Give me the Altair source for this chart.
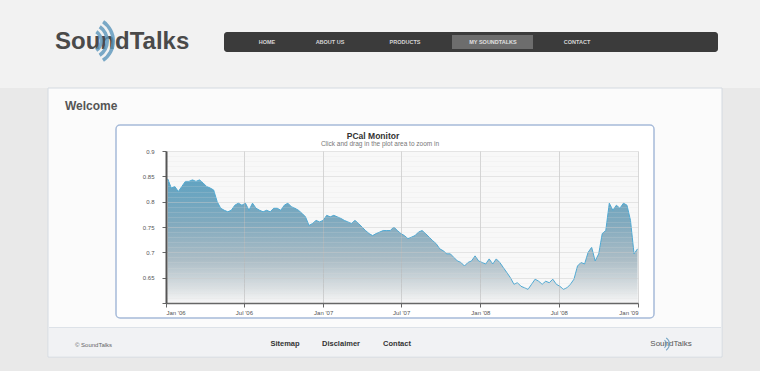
import altair as alt
import pandas as pd

# ---------------- data ----------------
VALUES = [
    0.845, 0.827, 0.830, 0.820, 0.830, 0.840, 0.840, 0.843, 0.840, 0.843,
    0.837, 0.830, 0.827, 0.823, 0.800, 0.787, 0.783, 0.780, 0.783, 0.793,
    0.797, 0.793, 0.797, 0.783, 0.797, 0.787, 0.783, 0.780, 0.783, 0.780,
    0.787, 0.787, 0.783, 0.793, 0.797, 0.790, 0.787, 0.783, 0.777, 0.770,
    0.753, 0.757, 0.763, 0.760, 0.763, 0.773, 0.770, 0.773, 0.770, 0.767,
    0.763, 0.760, 0.757, 0.763, 0.757, 0.750, 0.743, 0.737, 0.733, 0.737,
    0.740, 0.743, 0.743, 0.743, 0.750, 0.743, 0.737, 0.733, 0.727, 0.730,
    0.733, 0.740, 0.743, 0.737, 0.730, 0.723, 0.717, 0.707, 0.703, 0.697,
    0.697, 0.690, 0.683, 0.680, 0.673, 0.680, 0.683, 0.693, 0.683, 0.680,
    0.677, 0.687, 0.677, 0.687, 0.680, 0.670, 0.660, 0.650, 0.637, 0.640,
    0.633, 0.630, 0.627, 0.637, 0.647, 0.643, 0.637, 0.643, 0.640, 0.647,
    0.637, 0.633, 0.627, 0.630, 0.637, 0.647, 0.673, 0.680, 0.677, 0.700,
    0.710, 0.683, 0.697, 0.737, 0.743, 0.797, 0.783, 0.793, 0.787, 0.797,
    0.793, 0.763, 0.697, 0.707,
]
START_DATE = "2006-01-05"
END_DATE = "2008-12-31"

Y_TICKS = [0.60, 0.61, 0.62, 0.63, 0.64, 0.65, 0.66, 0.67, 0.68, 0.69,
           0.70, 0.71, 0.72, 0.73, 0.74, 0.75, 0.76, 0.77, 0.78, 0.79,
           0.80, 0.81, 0.82, 0.83, 0.84, 0.85, 0.86, 0.87, 0.88, 0.89, 0.90]
X_TICKS = [(2006, 1), (2006, 7), (2007, 1), (2007, 7), (2008, 1), (2008, 7), (2009, 1)]

TITLE = "PCal Monitor"
SUBTITLE = "Click and drag in the plot area to zoom in"
LOGO = "SoundTalks"
MENU = ["HOME", "ABOUT US", "PRODUCTS", "MY SOUNDTALKS", "CONTACT"]
WELCOME = "Welcome"
COPYRIGHT = "© SoundTalks"
FOOTER_LINKS = ["Sitemap", "Disclaimer", "Contact"]

# ---------------- chart ----------------
W, H = 472, 152
df = pd.DataFrame({
    "date": pd.date_range(START_DATE, END_DATE, periods=len(VALUES)),
    "value": VALUES,
})
ONE = pd.DataFrame({"k": [0]})
FONT = "Liberation Sans"


def box(x, x2, y, y2, **kw):
    return alt.Chart(ONE).mark_rect(**kw).encode(
        x=alt.value(x), x2=alt.value(x2), y=alt.value(y), y2=alt.value(y2))


def label(text, x, y, **kw):
    return alt.Chart(ONE).mark_text(text=text, font=FONT, **kw).encode(
        x=alt.value(x), y=alt.value(y))


def arc(x, y, r, w, **kw):
    return alt.Chart(ONE).mark_arc(radius=r, radius2=r - w, **kw).encode(
        x=alt.value(x), y=alt.value(y))


grad = alt.Gradient(
    gradient="linear",
    stops=[
        alt.GradientStop(color="#1f7eaa", offset=0),
        alt.GradientStop(color="#4d88a5", offset=0.35),
        alt.GradientStop(color="#8aa3b0", offset=0.65),
        alt.GradientStop(color="#cdd5d9", offset=0.88),
        alt.GradientStop(color="#f6f6f6", offset=1),
    ],
    x1=1, x2=1, y1=0, y2=1,
)

major_test = "round(datum.value*100) % 5 == 0"

area = alt.Chart(df).mark_area(
    color=grad, line={"color": "#4fa9d3", "strokeWidth": 1}, clip=True
).encode(
    x=alt.X(
        "date:T",
        scale=alt.Scale(domain=[alt.DateTime(year=2006, month=1, date=1),
                                alt.DateTime(year=2009, month=1, date=1)]),
        axis=alt.Axis(
            values=[alt.DateTime(year=y, month=m, date=1) for y, m in X_TICKS],
            format="%b '%y", title=None, grid=True, gridColor="#b8b8b8",
            gridOpacity=0.55,
            domainColor="#666666", domainWidth=1.5, tickColor="#666666",
            tickSize=4, labelFontSize=6, labelColor="#555555", labelPadding=2,
            labelFont=FONT, zindex=1,
        ),
    ),
    y=alt.Y(
        "value:Q",
        scale=alt.Scale(domain=[0.6, 0.9], zero=False, nice=False),
        axis=alt.Axis(
            values=Y_TICKS, title=None,
            labelExpr=f"({major_test} && datum.value > 0.605) ? '' + round(datum.value*100)/100 : ''",
            gridColor={"condition": {"test": major_test, "value": "#cccccc"}, "value": "#dddddd"},
            gridOpacity={"condition": {"test": major_test, "value": 0.45}, "value": 0.18},
            tickOpacity={"condition": {"test": major_test, "value": 1}, "value": 0},
            domainColor="#555555", domainWidth=2, tickColor="#666666", tickSize=4,
            labelFontSize=6, labelColor="#555555", labelPadding=8,
            labelFont=FONT, zindex=1,
        ),
    ),
    y2=alt.datum(0.6),
)

ARC_BLUE = "#5a95ba"

layers = [
    # page header band
    box(-166, 594, -151, -63, color="#f2f2f2"),
    # white content panel
    box(-118, 556, -63, 206, color="#fbfbfb", stroke="#d4dae1", strokeWidth=1),
    # footer band
    box(-117, 555, 176, 205, color="#f1f2f4"),
    box(-117, 555, 176, 177, color="#dde2e8"),
    # chart container
    box(-50, 488, -26, 167, color="#ffffff", stroke="#a7bbd9", strokeWidth=1.5, cornerRadius=4),
    # plot background
    box(0, W, 0, H, color="#f8f8f8"),
    area,
    # titles
    label(TITLE, 207, -15, fontSize=8.5, fontWeight="bold", color="#333333"),
    label(SUBTITLE, 214, -7, fontSize=6.5, color="#777777"),
    # header: logo + navigation
    label(LOGO, -111, -109, fontSize=24, fontWeight="bold", color="#4a4a4a", align="left", baseline="middle"),
    arc(-76, -110, 13, 3.5, theta=0.6, theta2=2.55, color=ARC_BLUE, opacity=0.8),
    arc(-76, -110, 19, 3.5, theta=0.6, theta2=2.55, color=ARC_BLUE, opacity=0.8),
    arc(-76, -110, 25, 3.5, theta=0.6, theta2=2.55, color=ARC_BLUE, opacity=0.8),
    box(58, 552, -119, -99, color="#3b3b3b", cornerRadius=3),
    box(286, 367, -116, -102, color="#6d6d6d"),
    label(MENU[0], 101, -109, fontSize=5.5, fontWeight="bold", color="#d5d5d5"),
    label(MENU[1], 164, -109, fontSize=5.5, fontWeight="bold", color="#d5d5d5"),
    label(MENU[2], 239, -109, fontSize=5.5, fontWeight="bold", color="#d5d5d5"),
    label(MENU[3], 327, -109, fontSize=5.5, fontWeight="bold", color="#e0e0e0"),
    label(MENU[4], 411, -109, fontSize=5.5, fontWeight="bold", color="#d5d5d5"),
    # panel heading
    label(WELCOME, -101, -45, fontSize=12, fontWeight="bold", color="#555555", align="left"),
    # footer
    label(COPYRIGHT, -91, 194, fontSize=6, color="#666666", align="left"),
    label(FOOTER_LINKS[0], 119, 193, fontSize=7.5, fontWeight="bold", color="#333333"),
    label(FOOTER_LINKS[1], 175, 193, fontSize=7.5, fontWeight="bold", color="#333333"),
    label(FOOTER_LINKS[2], 231, 193, fontSize=7.5, fontWeight="bold", color="#333333"),
    label(LOGO, 505, 193, fontSize=8, color="#555555"),
    arc(496, 193, 5, 1.2, theta=0.6, theta2=2.55, color=ARC_BLUE, opacity=0.8),
    arc(496, 193, 8, 1.2, theta=0.6, theta2=2.55, color=ARC_BLUE, opacity=0.8),
]

chart = alt.layer(*layers).properties(
    width=W, height=H,
    autosize=alt.AutoSizeParams(type="none"),
    padding={"left": 166, "top": 151, "right": 122, "bottom": 68},
    background="#e9e9e9",
).configure_view(stroke=None)

chart.save("out.html", embed_options={"renderer": "svg", "actions": False})
